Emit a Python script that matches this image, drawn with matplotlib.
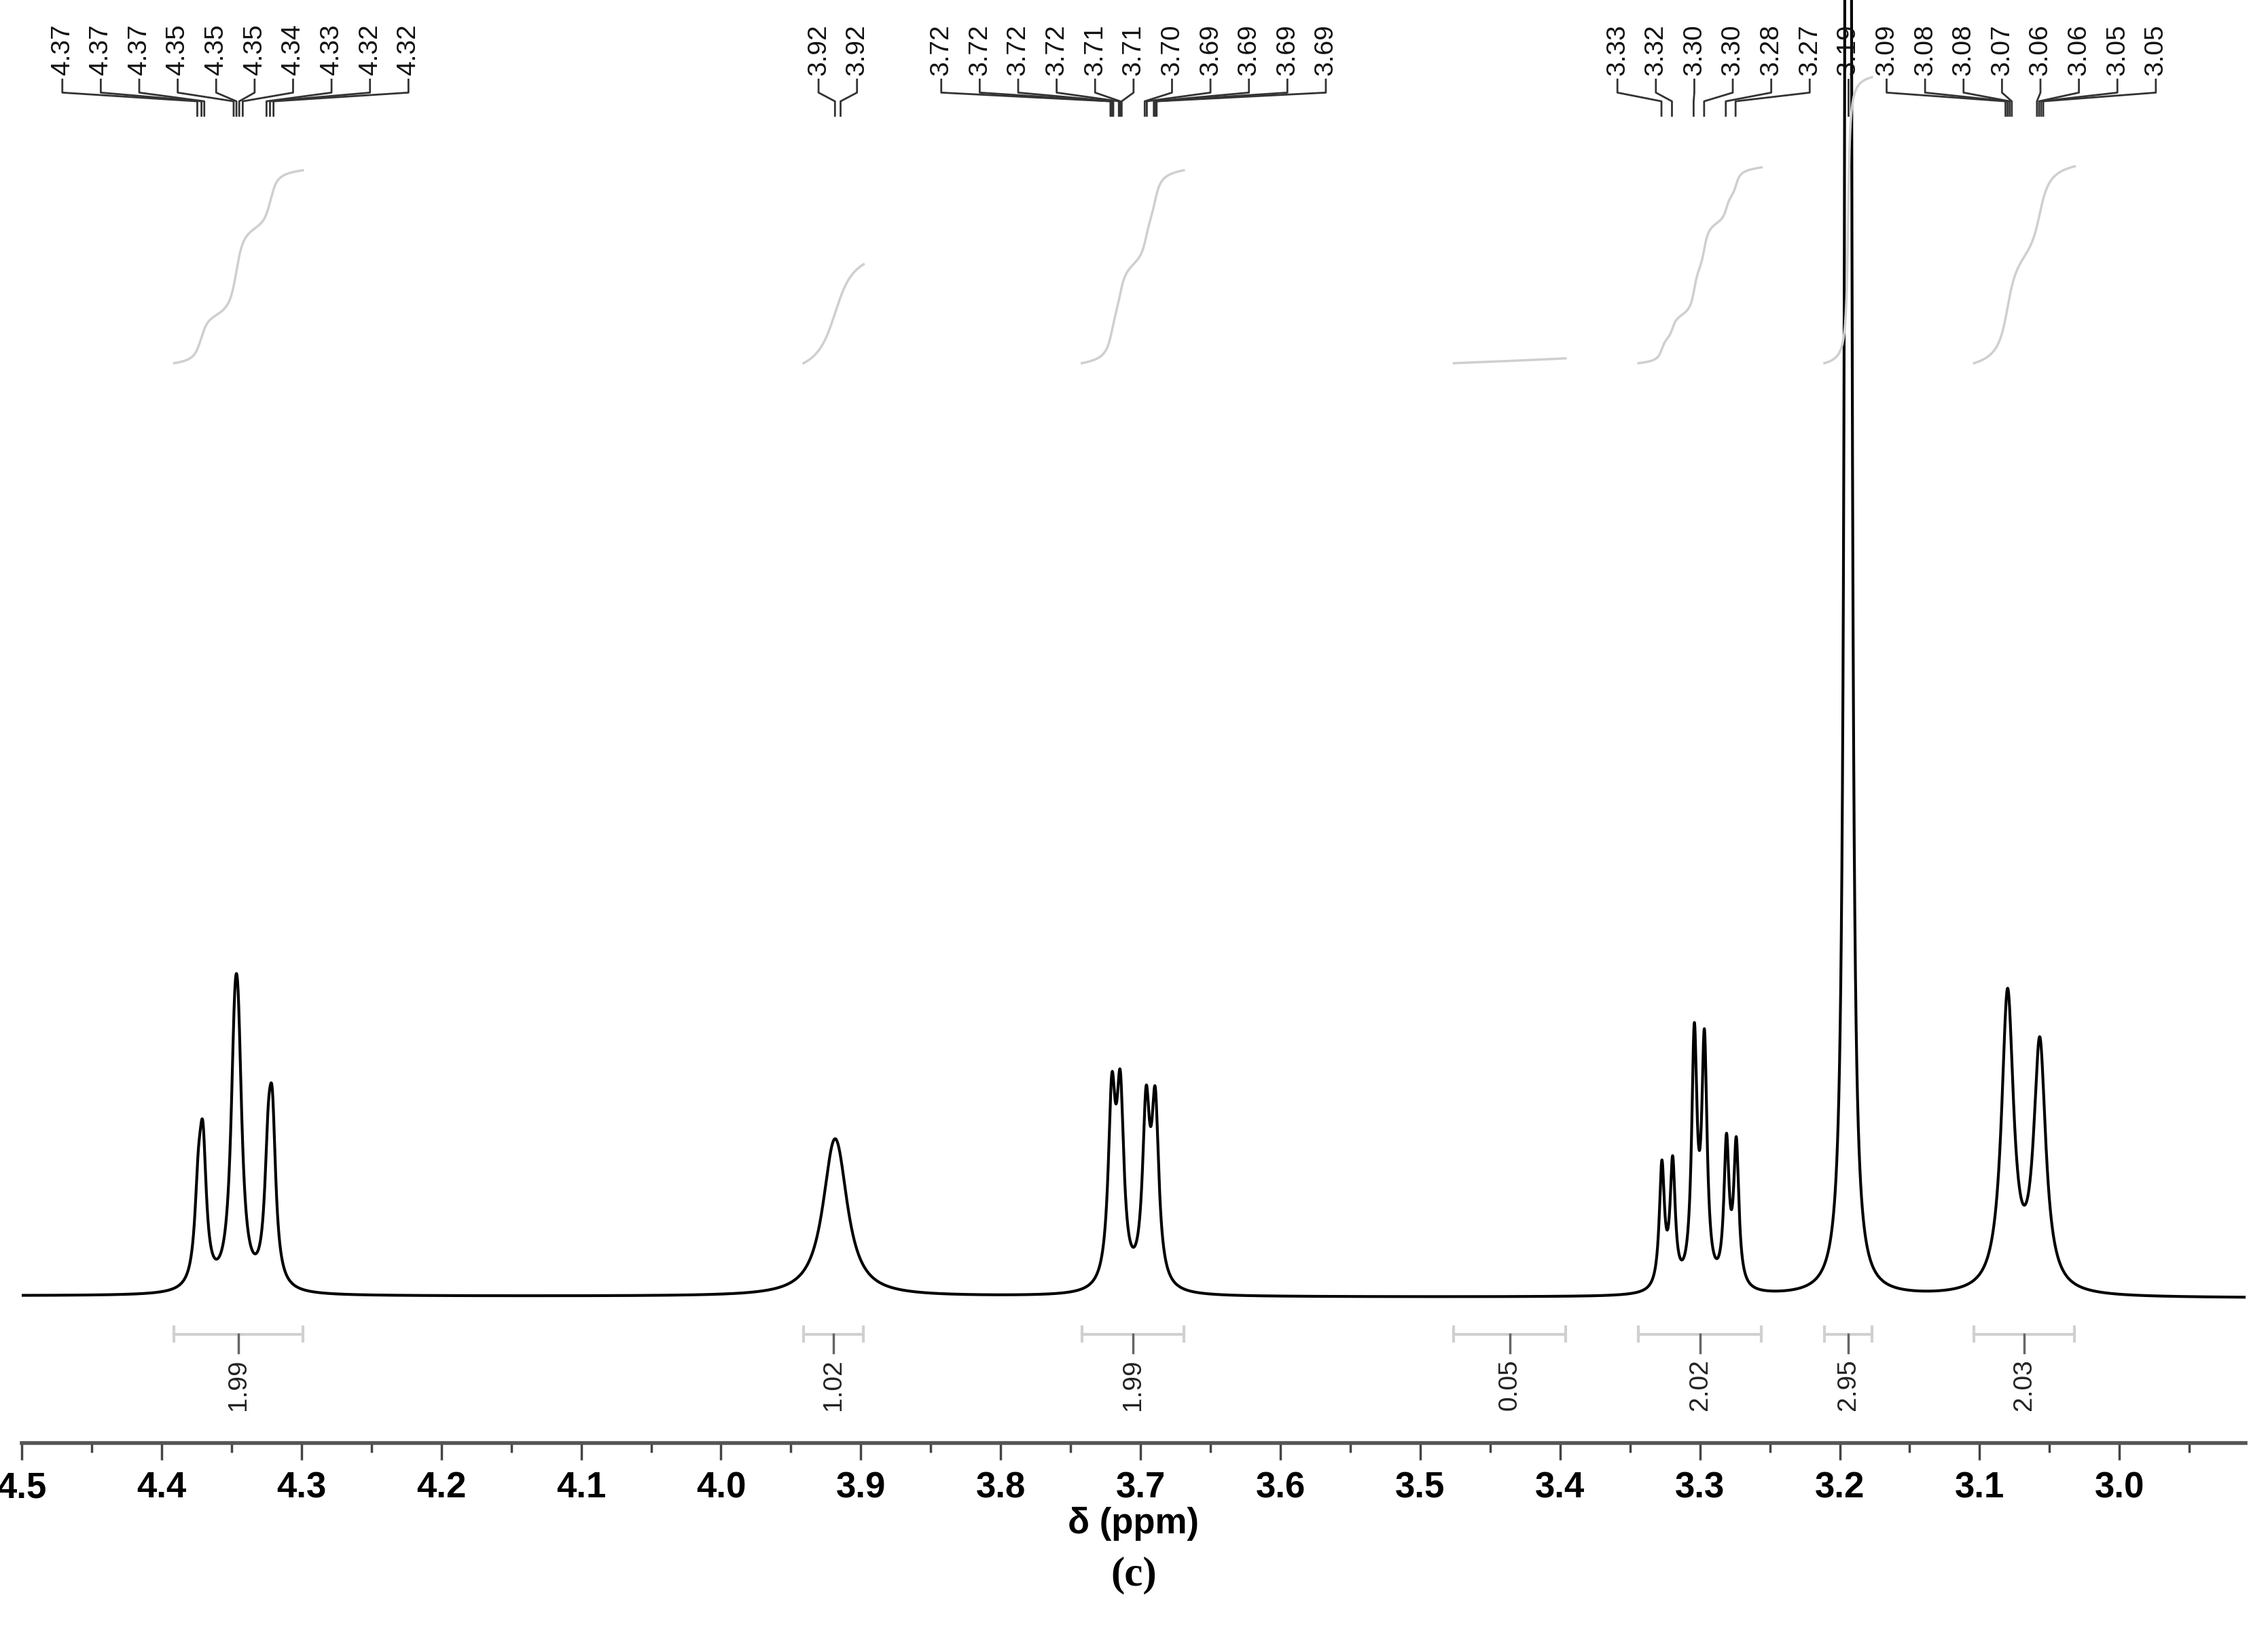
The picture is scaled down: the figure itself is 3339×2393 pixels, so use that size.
import numpy as np
import matplotlib
matplotlib.use('Agg')
import matplotlib.pyplot as plt

# peaks: position (ppm), height, half width
peak_ppm = [4.3738, 4.3705, 4.3478, 4.3452, 4.3238, 4.3208,
            3.9205, 3.9160,
            3.7205, 3.7145, 3.6960, 3.6895,
            3.3272, 3.3195, 3.3040, 3.2968, 3.2810, 3.2740,
            3.1940,
            3.0800, 3.0570]
peak_h = [55, 90, 125, 125, 75, 100,
          60, 55,
          125, 125, 118, 120,
          85, 85, 170, 165, 98, 98,
          5200,
          205, 170]
peak_w = [0.0030, 0.0030, 0.0034, 0.0034, 0.0030, 0.0030,
          0.0095, 0.0095,
          0.0031, 0.0031, 0.0031, 0.0031,
          0.0022, 0.0022, 0.0023, 0.0023, 0.0022, 0.0022,
          0.0011,
          0.0052, 0.0052]

# integral regions (ppm) and values
int_from = [4.391, 3.941, 3.742, 3.476, 3.344, 3.211, 3.104]
int_to = [4.299, 3.898, 3.669, 3.396, 3.256, 3.177, 3.032]
int_val = ["1.99", "1.02", "1.99", "0.05", "2.02", "2.95", "2.03"]

# peak pick groups: label text, picked ppm
groups = [
    (["4.37", "4.37", "4.37", "4.35", "4.35", "4.35", "4.34", "4.33", "4.32", "4.32"],
     [4.3745, 4.3715, 4.3695, 4.3485, 4.3465, 4.3445, 4.3420, 4.3250, 4.3225, 4.3200]),
    (["3.92", "3.92"], [3.9185, 3.9145]),
    (["3.72", "3.72", "3.72", "3.72", "3.71", "3.71", "3.70", "3.69", "3.69", "3.69", "3.69"],
     [3.7215, 3.7205, 3.7195, 3.7155, 3.7145, 3.7135, 3.6970, 3.6955, 3.6905, 3.6895, 3.6885]),
    (["3.33", "3.32", "3.30", "3.30", "3.28", "3.27", "3.19",
      "3.09", "3.08", "3.08", "3.07", "3.06", "3.06", "3.05", "3.05"],
     [3.3275, 3.3200, 3.3045, 3.2970, 3.2815, 3.2745, 3.1940,
      3.0815, 3.0800, 3.0785, 3.0770, 3.0590, 3.0575, 3.0560, 3.0545]),
]

x = np.linspace(4.52, 2.90, 20000)
y = np.zeros_like(x)
for p, h, w in zip(peak_ppm, peak_h, peak_w):
    y += h * w**2 / ((x - p)**2 + w**2)
y += 1.5 * (x - 2.9) / 1.6  # slight baseline tilt

fig = plt.figure(figsize=(33.39, 23.93), dpi=100)
ax = fig.add_axes([0.0096, 0.1122, 0.9804, 0.8878])
ax.set_xlim(4.499, 2.910)
ax.set_ylim(-100, 897)

ax.plot(x, y, color='black', lw=3)

# integrals
for a, b, v in zip(int_from, int_to, int_val):
    m = (x <= a) & (x >= b)
    c = np.cumsum(y[m])
    c = c / c[-1] * float(v) * 67
    ax.plot(x[m], 646 + c, color='#cfcfcf', lw=2.5)
    ax.plot([a, b], [-25, -25], color='#d0d0d0', lw=3)
    ax.plot([a, a], [-30, -20], color='#d0d0d0', lw=3)
    ax.plot([b, b], [-30, -20], color='#d0d0d0', lw=3)
    mid = (a + b) / 2
    ax.plot([mid, mid], [-25, -38], color='#666666', lw=2.5)
    ax.text(mid, -42, v, rotation=90, ha='center', va='top', fontsize=28,
            family='Liberation Sans', color='#222222')

# peak labels
step = 0.0275
for labels, picks in groups:
    n = len(labels)
    centre = (max(picks) + min(picks)) / 2
    if n == 15:
        centre = 3.194 - step  # 3.19 label sits at slot 6 of 15
    pos = [centre + (n - 1) / 2 * step - i * step for i in range(n)]
    for t, lx, px in zip(labels, pos, picks):
        ax.text(lx, 845, t, rotation=90, ha='center', va='bottom', fontsize=28,
                family='Liberation Sans', color='#111111')
        ax.plot([lx, lx, px, px], [842, 833, 827, 817], color='#333333', lw=2)

for s in ['top', 'left', 'right']:
    ax.spines[s].set_visible(False)
ax.spines['bottom'].set_color('#555555')
ax.spines['bottom'].set_linewidth(4)
ax.set_yticks([])
ticks = [4.5, 4.4, 4.3, 4.2, 4.1, 4.0, 3.9, 3.8, 3.7, 3.6, 3.5, 3.4, 3.3, 3.2, 3.1, 3.0]
ax.set_xticks(ticks)
ax.set_xticklabels([f"{t:.1f}" for t in ticks])
ax.set_xticks([t - 0.05 for t in ticks], minor=True)
ax.tick_params(axis='x', which='major', length=18, width=2.5, color='#444444', pad=12)
ax.tick_params(axis='x', which='minor', length=10, width=2.5, color='#444444')
for lbl in ax.get_xticklabels():
    lbl.set_fontsize(38)
    lbl.set_fontweight('bold')
    lbl.set_family(['Liberation Sans Narrow', 'Liberation Sans'])
ax.set_xlabel("δ (ppm)", fontsize=38, fontweight='bold', family='Liberation Sans', labelpad=2)

fig.text(0.5, 0.019, "(c)", ha='center', va='bottom', fontsize=44, fontweight='bold',
         family='Liberation Serif')

fig.savefig('out.png', dpi=100)
